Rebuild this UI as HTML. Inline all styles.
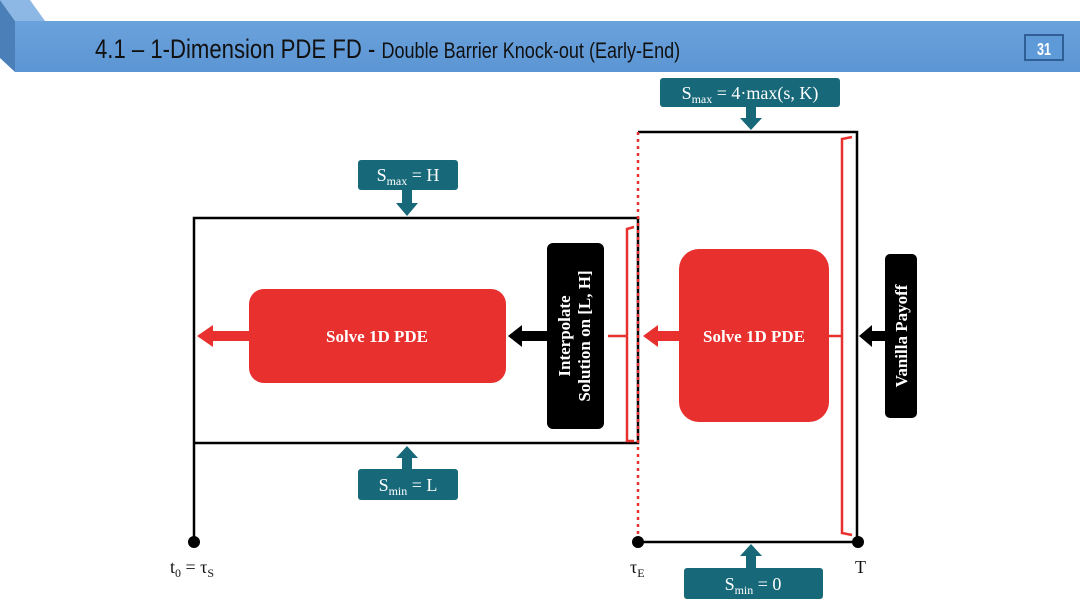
<!DOCTYPE html>
<html><head><meta charset="utf-8"><style>
html,body{margin:0;padding:0;background:#fff;width:1080px;height:608px;overflow:hidden}
svg{display:block}
.t{font-family:"Liberation Serif",serif;fill:#fff}
</style></head><body>
<svg width="1080" height="608" viewBox="0 0 1080 608" xmlns="http://www.w3.org/2000/svg">
<defs>
<linearGradient id="hb" x1="0" y1="0" x2="0" y2="1"><stop offset="0" stop-color="#6aa2dc"/><stop offset="1" stop-color="#5b95d3"/></linearGradient>
</defs>
<polygon points="0,0 30,0 45,21 15,21" fill="#8db8e6"/>
<polygon points="0,0 15,21 15,72 0,58" fill="#4a7fb8"/>
<rect x="15" y="21" width="1065" height="51" fill="url(#hb)"/>
<text x="95" y="58" font-family="Liberation Sans Narrow,Liberation Sans,sans-serif" font-size="27" fill="#111" transform="translate(95 0) scale(0.82 1) translate(-95 0)">4.1 – 1-Dimension PDE FD - <tspan font-size="22">Double Barrier Knock-out (Early-End)</tspan></text>
<rect x="1025" y="35" width="38" height="25" fill="#5f9ad8" stroke="#2f5f96" stroke-width="2"/>
<text x="1044" y="55" font-family="Liberation Sans,sans-serif" font-size="18" fill="#fff" text-anchor="middle" font-weight="bold" transform="translate(1044 0) scale(0.7 1) translate(-1044 0)">31</text>

<g stroke="#000" stroke-width="2.5" fill="none">
<polyline points="194,542 194,218 638,218 638,443 194,443"/>
<polyline points="638,132 857,132 857,542 638,542"/>
</g>
<line x1="638" y1="132" x2="638" y2="542" stroke="#e8302e" stroke-width="2.5" stroke-dasharray="3,4"/>
<circle cx="194" cy="542" r="6" fill="#000"/>
<circle cx="638" cy="542" r="6" fill="#000"/>
<circle cx="858" cy="542" r="6" fill="#000"/>

<g stroke="#e8302e" stroke-width="2.5" fill="none">
<polyline points="634,227 627,229 627,441 634,441"/>
<line x1="608" y1="336" x2="627" y2="336"/>
<polyline points="852,137 842,139 842,533 852,535"/>
<line x1="829" y1="336" x2="842" y2="336"/>
</g>

<rect x="249" y="289" width="257" height="94" rx="15" fill="#e8302e"/>
<text x="377" y="342" class="t" font-size="17" font-weight="bold" text-anchor="middle">Solve 1D PDE</text>
<rect x="679" y="249" width="150" height="173" rx="20" fill="#e8302e"/>
<text x="754" y="342" class="t" font-size="17" font-weight="bold" text-anchor="middle">Solve 1D PDE</text>

<polygon points="249,331 213,331 213,325 197,336 213,347 213,341 249,341" fill="#e8302e"/>
<polygon points="679,331 658,331 658,325 643,336 658,347 658,341 679,341" fill="#e8302e"/>

<rect x="547" y="243" width="57" height="186" rx="6" fill="#000"/>
<text class="t" font-size="17" font-weight="bold" text-anchor="middle" transform="translate(575 336) rotate(-90)"><tspan x="0" y="-5">Interpolate</tspan><tspan x="0" y="15">Solution on [L, H]</tspan></text>
<rect x="885" y="254" width="32" height="164" rx="5" fill="#000"/>
<text class="t" font-size="17" font-weight="bold" text-anchor="middle" transform="translate(907 336) rotate(-90)">Vanilla Payoff</text>

<polygon points="547,331 522,331 522,325 508,336 522,347 522,341 547,341" fill="#000"/>
<polygon points="885,331 872,331 872,325 859,336 872,347 872,341 885,341" fill="#000"/>

<g fill="#17697a">
<rect x="660" y="78" width="180" height="29" rx="3"/>
<polygon points="746,107 756,107 756,118 762,118 751,130 740,118 746,118"/>
<rect x="358" y="160" width="100" height="30" rx="3"/>
<polygon points="402,190 412,190 412,203 418,203 407,216 396,203 402,203"/>
<rect x="358" y="469" width="100" height="31" rx="3"/>
<polygon points="402,469 412,469 412,458 418,458 407,446 396,458 402,458"/>
<rect x="684" y="568" width="139" height="31" rx="3"/>
<polygon points="746,568 756,568 756,556 762,556 751,544 740,556 746,556"/>
</g>
<text x="750" y="99" class="t" font-size="18" text-anchor="middle">S<tspan font-size="12" dy="4">max</tspan><tspan dy="-4"> = 4·max(s, K)</tspan></text>
<text x="408" y="181" class="t" font-size="18" text-anchor="middle">S<tspan font-size="12" dy="4">max</tspan><tspan dy="-4"> = H</tspan></text>
<text x="408" y="491" class="t" font-size="18" text-anchor="middle">S<tspan font-size="12" dy="4">min</tspan><tspan dy="-4"> = L</tspan></text>
<text x="753" y="590" class="t" font-size="18" text-anchor="middle">S<tspan font-size="12" dy="4">min</tspan><tspan dy="-4"> = 0</tspan></text>

<g font-family="Liberation Serif,serif" fill="#111" font-size="18">
<text x="170" y="573">t<tspan font-size="12" dy="4">0</tspan><tspan dy="-4"> = τ</tspan><tspan font-size="12" dy="4">S</tspan></text>
<text x="630" y="573">τ<tspan font-size="12" dy="4">E</tspan></text>
<text x="855" y="573">T</text>
</g>
</svg>
</body></html>
